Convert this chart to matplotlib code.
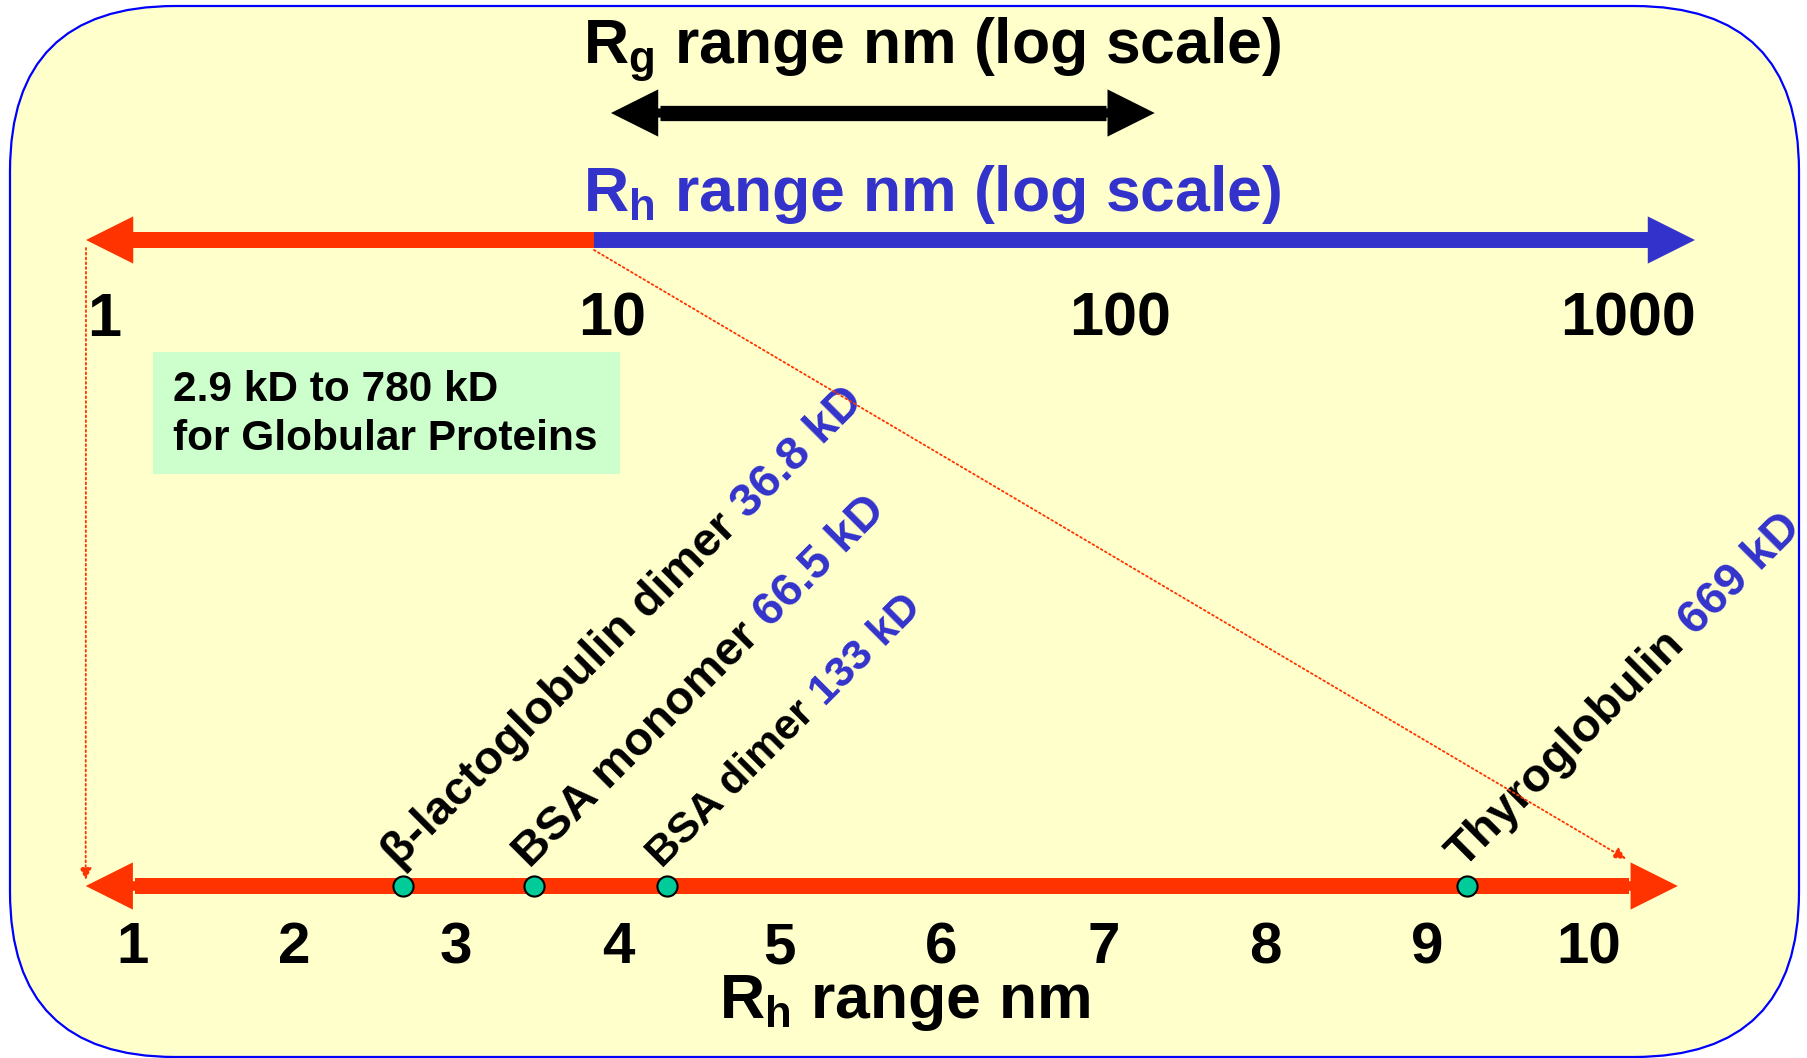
import matplotlib
matplotlib.use('Agg')
import matplotlib.pyplot as plt
from matplotlib.patches import FancyBboxPatch, FancyArrowPatch, Rectangle, ConnectionPatch
from matplotlib.font_manager import FontProperties
import numpy as np

plt.rcParams['font.family'] = ['Liberation Sans', 'DejaVu Sans']
plt.rcParams['font.weight'] = 'bold'
plt.rcParams['mathtext.fontset'] = 'custom'
plt.rcParams['mathtext.rm'] = 'Liberation Sans:bold'
plt.rcParams['mathtext.bf'] = 'Liberation Sans:bold'
plt.rcParams['mathtext.it'] = 'Liberation Sans:bold'

# top scale (log, nm)
top_ticks = [1, 10, 100, 1000]
top_tick_labels = ['1', '10', '100', '1000']
rh_small = [1, 10]        # red part of the Rh arrow
rh_large = [10, 1470]     # blue part of the Rh arrow
rg_range = [10.8, 127]    # Rg double arrow

# bottom scale (linear, nm)
bottom_ticks = [1, 2, 3, 4, 5, 6, 7, 8, 9, 10]
bottom_tick_labels = ['1', '2', '3', '4', '5', '6', '7', '8', '9', '10']
bottom_range = [0.71, 10.55]

protein_names = ['\u03b2-lactoglobulin dimer', 'BSA monomer', 'BSA dimer', 'Thyroglobulin']
protein_mw = ['36.8 kD', '66.5 kD', '133 kD', '669 kD']
protein_rh = [2.67, 3.48, 4.30, 9.25]
label_sizes = [34, 34, 31, 34]

box_lines = ['2.9 kD to 780 kD', 'for Globular Proteins']

RED = '#FF3300'
BLUE = '#3333CC'
W, H = 1808, 1058
DPI = 100

fig = plt.figure(figsize=(W / DPI, H / DPI), dpi=DPI)
fig.patch.set_facecolor('white')

# layout axes in pixel units
ax0 = fig.add_axes([0, 0, 1, 1])
ax0.set_xlim(0, W)
ax0.set_ylim(H, 0)
ax0.axis('off')

box = FancyBboxPatch((10, 6), 1789, 1051, boxstyle='round,pad=0,rounding_size=165',
                     facecolor='#FFFFCC', edgecolor='#0000FF', linewidth=1.6)
ax0.add_patch(box)

ax0.add_patch(Rectangle((153, 352), 467, 122, facecolor='#CCFFCC', edgecolor='none'))
for i, line in enumerate(box_lines):
    ax0.text(173, 390 + i * 49, line, fontsize=30.5, ha='left', va='center')

# log axis on top
ax_top = fig.add_axes([0, 0, 1, 1])
ax_top.set_facecolor('none')
ax_top.set_xscale('log')
ax_top.set_xlim(10 ** (-86 / 508), 10 ** ((W - 86) / 508))
ax_top.set_ylim(H, 0)
ax_top.axis('off')

# linear axis at the bottom
ax_bot = fig.add_axes([0, 0, 1, 1])
ax_bot.set_facecolor('none')
ax_bot.set_xlim(1 - 132.6 / 161.8, 1 + (W - 132.6) / 161.8)
ax_bot.set_ylim(H, 0)
ax_bot.axis('off')


def arrow(ax, x0, x1, y, color, tail=11.5, head=34):
    a = FancyArrowPatch((x0, y), (x1, y), arrowstyle='simple,head_length=%g,head_width=%g,tail_width=%g' % (head, head, tail),
                        mutation_scale=1, shrinkA=0, shrinkB=0, color=color, linewidth=0, zorder=3)
    ax.add_patch(a)


def double_arrow(ax, x0, x1, y, color, width=11.0, head=34):
    # shaft as one line between the two head bases, heads as short arrows
    head_px = head * DPI / 72
    p0 = ax.transData.transform((x0, y))
    p1 = ax.transData.transform((x1, y))
    inv = ax.transData.inverted()
    b0 = inv.transform((p0[0] + head_px + 2, p0[1]))[0]
    b1 = inv.transform((p1[0] - head_px - 2, p1[1]))[0]
    s0 = inv.transform((p0[0] + head_px + 10, p0[1]))[0]
    s1 = inv.transform((p1[0] - head_px - 10, p1[1]))[0]
    ax.plot([b0, b1], [y, y], color=color, linewidth=width, solid_capstyle='butt', zorder=3)
    arrow(ax, s0, x0, y, color, tail=width * 0.6, head=head)
    arrow(ax, s1, x1, y, color, tail=width * 0.6, head=head)


y_rg = 113
y_rh = 240
y_bot = 886

# Rg arrow (double headed)
double_arrow(ax_top, rg_range[0], rg_range[1], y_rg, 'black', width=11)

# Rh arrow: red below 10, blue above
arrow(ax_top, rh_small[1], rh_small[0], y_rh, RED)
arrow(ax_top, rh_large[0], rh_large[1], y_rh, BLUE)

# bottom arrow (double headed)
double_arrow(ax_bot, bottom_range[0], bottom_range[1], y_bot, RED, width=11.5)

ax0.text(932, 63, r'R$_{\rm g}$ range nm (log scale)', fontsize=45, ha='center', va='baseline', color='black')
ax0.text(932, 211, r'R$_{\rm h}$ range nm (log scale)', fontsize=45, ha='center', va='baseline', color=BLUE)
ax0.text(904, 1018, r'R$_{\rm h}$ range nm', fontsize=45, ha='center', va='baseline', color='black')

for v, s in zip(top_ticks, top_tick_labels):
    ax_top.annotate(s, xy=(v, 336), xytext=(13, 0), textcoords='offset points',
                    fontsize=44, ha='center', va='baseline')

for v, s in zip(bottom_ticks, bottom_tick_labels):
    ax_bot.text(v, 963, s, fontsize=42, ha='center', va='baseline')

# dotted guide lines linking the two scales
c1 = ConnectionPatch(xyA=(1, 248), coordsA=ax_top.transData, xyB=(bottom_range[0], 880), coordsB=ax_bot.transData,
                     arrowstyle='-|>,head_length=0.6,head_width=0.3', mutation_scale=12, color=RED,
                     linestyle=':', linewidth=1.3, zorder=6)
c2 = ConnectionPatch(xyA=(10, 250), coordsA=ax_top.transData, xyB=(10.23, 859), coordsB=ax_bot.transData,
                     arrowstyle='-|>,head_length=0.6,head_width=0.3', mutation_scale=12, color=RED,
                     linestyle=':', linewidth=1.3, zorder=6)
fig.add_artist(c1)
fig.add_artist(c2)

# protein markers and labels
ax_bot.scatter(protein_rh, [y_bot] * len(protein_rh), s=210, c='#00CC99', edgecolors='black',
               linewidths=1.5, zorder=5)

renderer = fig.canvas.get_renderer()
cs = np.cos(np.radians(45))
for v, name, mw, fsize in zip(protein_rh, protein_names, protein_mw, label_sizes):
    fp = FontProperties(family='Liberation Sans', weight='bold', size=fsize)
    space_px = 0.278 * fsize * DPI / 72
    ox, oy = -3, 12
    t1 = ax_bot.annotate(name, xy=(v, y_bot), xytext=(ox, oy), textcoords='offset points',
                         rotation=45, rotation_mode='anchor', ha='left', va='baseline',
                         fontsize=fsize, color='black', zorder=4)
    w, h, d = renderer.get_text_width_height_descent(name, fp, ismath=False)
    dist = (w + space_px) * 72 / DPI
    t2 = ax_bot.annotate(mw, xy=(v, y_bot), xytext=(ox + dist * cs, oy + dist * cs), textcoords='offset points',
                         rotation=45, rotation_mode='anchor', ha='left', va='baseline',
                         fontsize=fsize, color=BLUE, zorder=4)
    t1.set_clip_path(box)
    t2.set_clip_path(box)

fig.savefig('out.png', dpi=DPI)
